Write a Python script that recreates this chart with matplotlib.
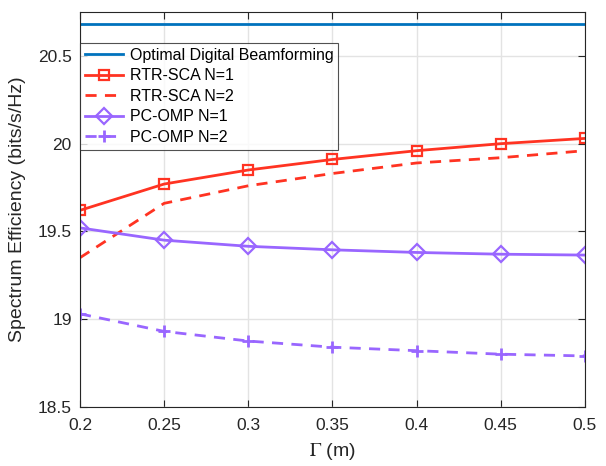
import numpy as np
import matplotlib.pyplot as plt

plt.rcParams['font.family'] = ['Liberation Sans', 'DejaVu Sans']
plt.rcParams['mathtext.fontset'] = 'stix'

gamma = [0.2, 0.25, 0.3, 0.35, 0.4, 0.45, 0.5]
optimal = [20.68] * len(gamma)
rtr_n1 = [19.62, 19.77, 19.85, 19.91, 19.96, 20.00, 20.03]
rtr_n2 = [19.35, 19.66, 19.76, 19.83, 19.89, 19.92, 19.96]
omp_n1 = [19.52, 19.45, 19.415, 19.395, 19.38, 19.37, 19.365]
omp_n2 = [19.03, 18.93, 18.875, 18.84, 18.82, 18.80, 18.79]

blue = '#0072BD'
red = '#FF3322'
purple = '#9966FF'

fig = plt.figure(figsize=(6.06, 4.66), dpi=100)
ax = fig.add_axes([0.132, 0.127, 0.833, 0.847])

ax.plot(gamma, optimal, color=blue, lw=2, label='Optimal Digital Beamforming')
ax.plot(gamma, rtr_n1, color=red, lw=2, marker='s', ms=7, mfc='none', mew=1.6,
        label='RTR-SCA N=1')
ax.plot(gamma, rtr_n2, color=red, lw=2, ls=(0, (4, 3)), label='RTR-SCA N=2')
ax.plot(gamma, omp_n1, color=purple, lw=2, marker='D', ms=8, mfc='none', mew=1.6,
        label='PC-OMP N=1')
ax.plot(gamma, omp_n2, color=purple, lw=2, ls=(0, (4, 3)), marker='+', ms=8, mew=2,
        label='PC-OMP N=2')

ax.set_xlim(0.2, 0.5)
ax.set_ylim(18.5, 20.75)
ax.set_xticks(gamma)
ax.set_xticklabels(['0.2', '0.25', '0.3', '0.35', '0.4', '0.45', '0.5'])
ax.set_yticks([18.5, 19, 19.5, 20, 20.5])
ax.set_yticklabels(['18.5', '19', '19.5', '20', '20.5'])
ax.grid(True, color='#E3E3E3', lw=1)
ax.set_axisbelow(True)
ax.tick_params(direction='in', top=True, right=True, labelsize=12.5,
               colors='#262626', length=5)
ax.tick_params(axis='x', pad=8)
ax.tick_params(axis='y', pad=6)
for s in ax.spines.values():
    s.set_color('#262626')
    s.set_linewidth(0.8)

ax.set_xlabel(r'$\Gamma$ (m)', fontsize=14, color='#262626', labelpad=6)
ax.set_ylabel('Spectrum Efficiency (bits/s/Hz)', fontsize=14, color='#262626',
              labelpad=8)

leg = ax.legend(loc='upper left', bbox_to_anchor=(0, 0.922), borderaxespad=0,
                fontsize=11.5, frameon=True, fancybox=False, handlelength=2.4,
                handletextpad=0.4, labelspacing=0.35, borderpad=0.3)
leg.get_frame().set_edgecolor('#262626')
leg.get_frame().set_linewidth(0.8)

fig.savefig('out.png', dpi=100)
